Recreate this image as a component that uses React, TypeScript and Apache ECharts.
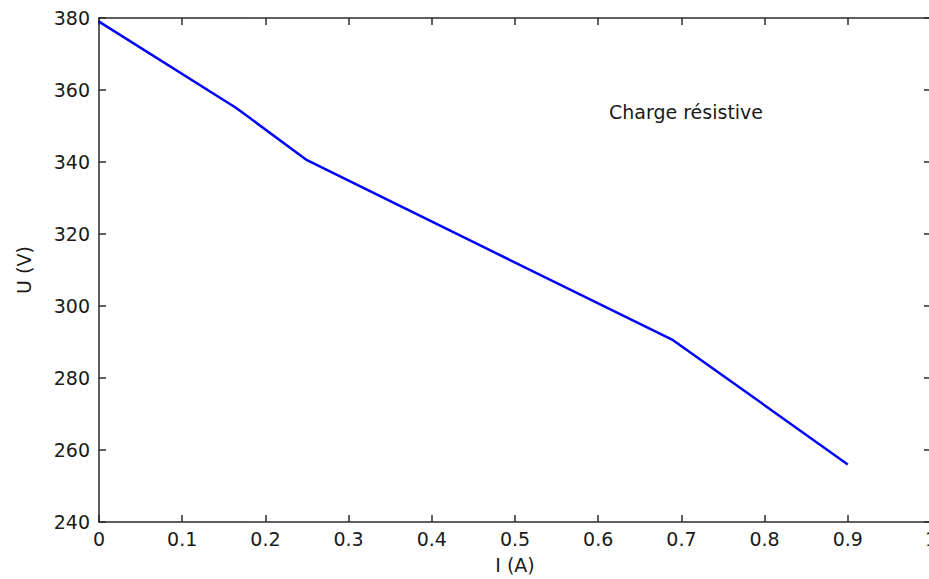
import React, { useEffect, useRef } from "react";
import * as echarts from "echarts";

const currentA = [0, 0.165, 0.25, 0.69, 0.9];
const voltageV = [379, 355, 340.5, 290.5, 256];
const annotation = "Charge résistive";
const xName = "I (A)";
const yName = "U (V)";

const FONT = "DejaVu Sans";
const AXIS_COLOR = "#2b2b2b";

export default function App() {
  const ref = useRef<HTMLDivElement>(null);
  useEffect(() => {
    if (!ref.current) return;
    const chart = echarts.init(ref.current, undefined, { renderer: "svg" });
    const fmtX = (v: number) => String(Math.round(v * 10) / 10);
    const common = {
      axisLine: { show: true, onZero: false, lineStyle: { color: AXIS_COLOR, width: 1.5 } },
      axisTick: { show: true, inside: true, length: 7, lineStyle: { color: AXIS_COLOR, width: 1.5 } },
      splitLine: { show: false },
    };
    chart.setOption({
      animation: false,
      backgroundColor: "#ffffff",
      grid: {
        left: 99,
        top: 18,
        width: 832,
        height: 504,
        containLabel: false,
        outerBoundsMode: "none",
      },
      xAxis: [
        {
          type: "value",
          min: 0,
          max: 1,
          interval: 0.1,
          position: "bottom",
          ...common,
          axisLabel: {
            formatter: fmtX,
            fontSize: 19,
            fontFamily: FONT,
            color: "#1a1a1a",
            margin: 7,
          },
          name: xName,
          nameLocation: "middle",
          nameGap: 33,
          nameTextStyle: { fontSize: 19, fontFamily: FONT, color: "#1a1a1a" },
        },
        {
          type: "value",
          min: 0,
          max: 1,
          interval: 0.1,
          position: "top",
          ...common,
          axisLabel: { show: false },
        },
      ],
      yAxis: [
        {
          type: "value",
          min: 240,
          max: 380,
          interval: 20,
          position: "left",
          ...common,
          axisLabel: {
            fontSize: 19,
            fontFamily: FONT,
            color: "#1a1a1a",
            margin: 9,
          },
          name: yName,
          nameLocation: "middle",
          nameGap: 66,
          nameRotate: 90,
          nameTextStyle: { fontSize: 19, fontFamily: FONT, color: "#1a1a1a" },
        },
        {
          type: "value",
          min: 240,
          max: 380,
          interval: 20,
          position: "right",
          ...common,
          axisLabel: { show: false },
        },
      ],
      graphic: [
        {
          type: "text",
          left: 609,
          top: 102,
          style: {
            text: annotation,
            fontSize: 19,
            fontFamily: FONT,
            fill: "#1a1a1a",
          },
        },
      ],
      series: [
        {
          type: "line",
          xAxisIndex: 0,
          yAxisIndex: 0,
          data: currentA.map((x, i) => [x, voltageV[i]]),
          showSymbol: false,
          symbol: "none",
          lineStyle: { color: "#0000ff", width: 2.5 },
        },
      ],
    });
    return () => chart.dispose();
  }, []);
  return (
    <div
      ref={ref}
      style={{ position: "fixed", left: 0, top: 0, width: 929, height: 579, background: "#fff" }}
    />
  );
}
